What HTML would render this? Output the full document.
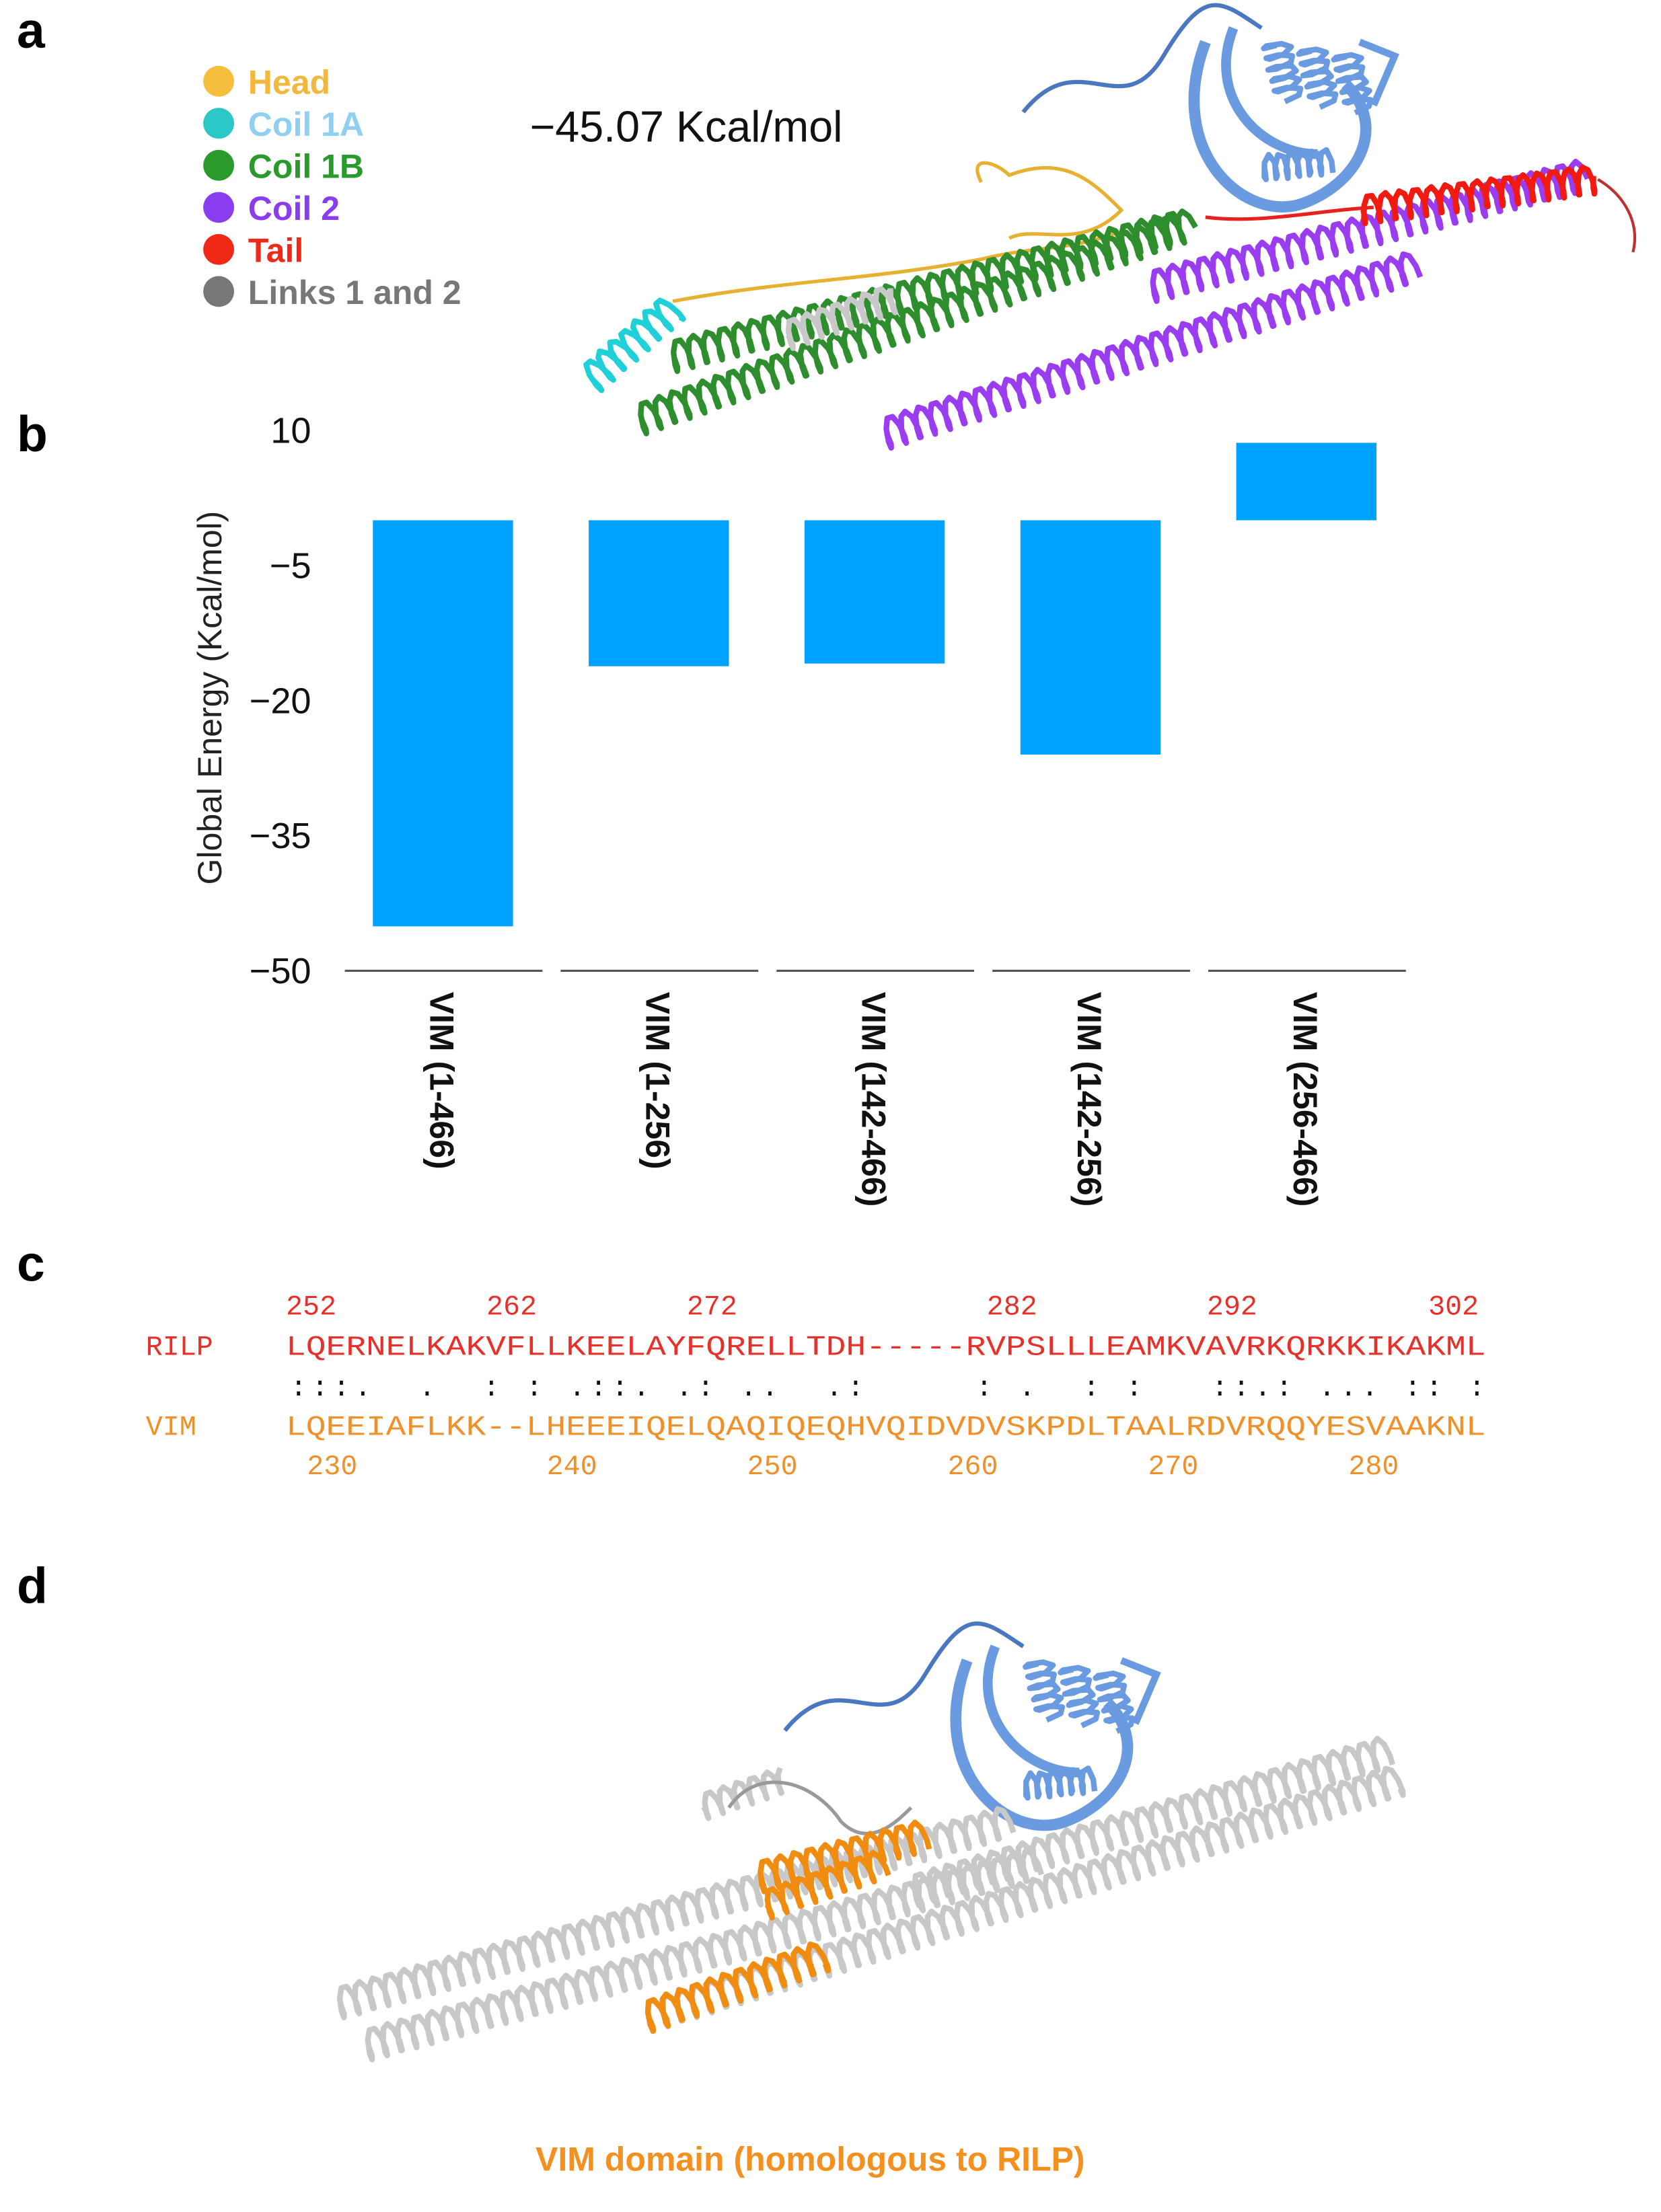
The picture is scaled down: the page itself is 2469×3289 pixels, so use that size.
<!DOCTYPE html>
<html><head><meta charset="utf-8"><style>
html,body{margin:0;padding:0;background:#fff}
svg{display:block}
text{font-family:"Liberation Sans",sans-serif}
.mono{font-family:"Liberation Mono",monospace}
</style></head><body>
<svg id="fig" width="2469" height="3289" viewBox="0 0 1185 1578.6" xmlns="http://www.w3.org/2000/svg">
<rect width="1185" height="1578.6" fill="#fff"/>
<text x="12" y="34" font-size="36" font-weight="bold">a</text>
<text x="12" y="322" font-size="36" font-weight="bold">b</text>
<text x="12" y="914" font-size="36" font-weight="bold">c</text>
<text x="12" y="1144" font-size="36" font-weight="bold">d</text>

<g font-size="24" font-weight="bold">
<g><circle cx="156" cy="58" r="11" fill="#f5be3c"/><text x="177" y="67" fill="#f2b83c">Head</text></g>
<g><circle cx="156" cy="88" r="11" fill="#2cc7c7"/><text x="177" y="97" fill="#8fd0f2">Coil 1A</text></g>
<g><circle cx="156" cy="118" r="11" fill="#2a9a2a"/><text x="177" y="127" fill="#2a9a2a">Coil 1B</text></g>
<g><circle cx="156" cy="148" r="11" fill="#8a3cf0"/><text x="177" y="157" fill="#8a3cf0">Coil 2</text></g>
<g><circle cx="156" cy="178" r="11" fill="#f02818"/><text x="177" y="187" fill="#f02818">Tail</text></g>
<g><circle cx="156" cy="208" r="11" fill="#777"/><text x="177" y="217" fill="#777">Links 1 and 2</text></g>
</g>
<text x="378" y="101" font-size="31" fill="#111">−45.07 Kcal/mol</text>

<g id="struct-a"></g>
<g id="chart"></g>

<g class="mono" font-size="20">
<g id="rilp-nums" fill="#e8302a"></g>
<text x="104" y="967" fill="#e8302a" font-size="20" class="mono">RILP</text>
<text x="204" y="967" fill="#e8302a" font-size="20" class="mono" textLength="856" lengthAdjust="spacingAndGlyphs">LQERNELKAKVFLLKEELAYFQRELLTDH-----RVPSLLLEAMKVAVRKQRKKIKAKML</text>
<text id="dots" x="204" y="996" fill="#111" font-size="20" class="mono" xml:space="preserve"></text>
<text x="104" y="1024" fill="#f0902a" font-size="20" class="mono">VIM</text>
<text x="204" y="1024" fill="#f0902a" font-size="20" class="mono" textLength="856" lengthAdjust="spacingAndGlyphs">LQEEIAFLKK--LHEEEIQELQAQIQEQHVQIDVDVSKPDLTAALRDVRQQYESVAAKNL</text>
<g id="vim-nums" fill="#f0902a"></g>
</g>

<g id="struct-d"></g>
<text x="578" y="1549" text-anchor="middle" font-size="24" font-weight="bold" fill="#f5901e">VIM domain (homologous to RILP)</text>
</svg>
<script>
const NS="http://www.w3.org/2000/svg";
const categories=["VIM (1-466)","VIM (1-256)","VIM (142-466)","VIM (142-256)","VIM (256-466)"];
const energies=[-45.07,-16.2,-15.9,-26.0,8.6];
const yTicks=[10,-5,-20,-35,-50];
const yTickLabels=["10","−5","−20","−35","−50"];

function mk(tag,attrs,parent){const e=document.createElementNS(NS,tag);for(const k in attrs)e.setAttribute(k,attrs[k]);parent.appendChild(e);return e;}
const chart=document.getElementById('chart');
const Y0=371.3, PX=6.43;
const yScale=v=>Y0-v*PX;
const bandW=154, barW=100;
const xCenter=i=>316+bandW*i;
yTicks.forEach((t,i)=>{
  const tx=mk('text',{x:222,y:yScale(t)+9,'text-anchor':'end','font-size':26,fill:'#111'},chart);
  
  
  tx.textContent=yTickLabels[i];
});
const yt=mk('text',{x:0,y:0,transform:'translate(158,498) rotate(-90)','text-anchor':'middle','font-size':24,fill:'#222'},chart);


yt.textContent='Global Energy (Kcal/mol)';
energies.forEach((v,i)=>{
  const cx=xCenter(i);
  const top=Math.min(yScale(v),Y0), h=Math.abs(yScale(v)-Y0);
  const r=mk('rect',{x:cx-barW/2,y:top,width:barW,height:h,fill:'#00a2ff'},chart);
  
  
  const ln=mk('line',{x1:cx-70,x2:cx+71,y1:yScale(-50),y2:yScale(-50),stroke:'#555','stroke-width':1.5},chart);
  
  
  const lb=mk('text',{x:0,y:0,transform:`translate(${cx-9},${yScale(-50)+15}) rotate(90)`,'font-size':24,'font-weight':'bold',fill:'#111'},chart);
  
  
  lb.textContent=categories[i];
});
const rilpNums=[[252,204],[262,347],[272,490],[282,704],[292,861],[302,1019]];
const vimNums=[[230,219],[240,390],[250,533],[260,676],[270,819],[280,962]];
rilpNums.forEach(([n,x])=>{const t=mk('text',{x:x,y:938,'font-size':20,class:'mono'},document.getElementById('rilp-nums'));t.textContent=n;});
vimNums.forEach(([n,x])=>{const t=mk('text',{x:x,y:1052,'font-size':20,class:'mono'},document.getElementById('vim-nums'));t.textContent=n;});
const dm={0:':',1:':',2:':',3:'.',6:'.',9:':',11:':',13:'.',14:':',15:':',16:'.',18:'.',19:':',21:'.',22:'.',25:'.',26:':',32:':',34:'.',37:':',39:':',43:':',44:':',45:'.',46:':',48:'.',49:'.',50:'.',52:':',53:':',55:':'};
const cw=856/56;const dg=document.getElementById('dots');dg.removeAttribute('x');
for(const k in dm){const ts=mk('tspan',{x:204+k*cw+3},dg);ts.textContent=dm[k];}
function helix(g,x1,y1,x2,y2,col,amp,per,w){
  const dx=x2-x1,dy=y2-y1,L=Math.hypot(dx,dy),ux=dx/L,uy=dy/L,nx=-uy,ny=ux;let d='';
  for(let t=0;t<=L;t+=1.5){const ph=t/per*2*Math.PI;const a=t+amp*0.25*Math.cos(ph),b=amp*Math.sin(ph);
    d+=(t?'L':'M')+(x1+ux*a+nx*b).toFixed(1)+' '+(y1+uy*a+ny*b).toFixed(1);}
  const p=mk('path',{d:d,fill:'none',stroke:col,'stroke-width':w||4,'stroke-linejoin':'round'},g);
  
  
}
function loop(g,d,col,w){const p=mk('path',{d:d,fill:'none',stroke:col,'stroke-width':w||3},g);
  
  }
function domain(g,cx,cy,s){
  const c='#6a9ae0';
  loop(g,`M${cx-160*s} ${cy-30*s} C${cx-120*s} ${cy-80*s} ${cx-90*s} ${cy-20*s} ${cx-60*s} ${cy-70*s} S${cx-20*s} ${cy-110*s} ${cx+10*s} ${cy-90*s}`,'#4a78c0',3);
  for(let i=0;i<3;i++)helix(g,cx+(20+i*25)*s,cy-(80-i*4)*s,cx+(30+i*25)*s,cy-(40-i*4)*s,c,10*s,8*s,4);
  loop(g,`M${cx-30*s} ${cy-80*s} C${cx-60*s} ${cy} ${cx} ${cy+50*s} ${cx+40*s} ${cy+35*s} C${cx+80*s} ${cy+20*s} ${cx+100*s} ${cy-20*s} ${cx+70*s} ${cy-50*s}`,c,8);
  loop(g,`M${cx-10*s} ${cy-90*s} C${cx-30*s} ${cy-40*s} ${cx+10*s} ${cy} ${cx+50*s} ${cy}`,c,7);
  helix(g,cx+10*s,cy+10*s,cx+60*s,cy+5*s,c,9*s,8*s,4);
  loop(g,`M${cx+80*s} ${cy-80*s} L${cx+105*s} ${cy-70*s} L${cx+90*s} ${cy-35*s}`,c,5);
}
const A=document.getElementById('struct-a');
domain(A,890,110,1);
loop(A,'M700 130 C690 110 710 115 720 125 C760 110 780 130 800 150 C770 180 740 160 720 170','#e8b030',2.5);
loop(A,'M480 215 C560 200 620 200 700 185 C740 175 760 180 800 165','#e8b030',2.5);
helix(A,420,272,482,218,'#1fd0d8',11,11,4);
helix(A,455,300,850,160,'#2e8e2e',11,11,4);
helix(A,478,255,840,162,'#2e8e2e',11,11,4);
helix(A,560,240,640,212,'#c8c8c8',10,11,4);
helix(A,630,310,1010,190,'#9a3cf0',11,11,4);
helix(A,820,205,1130,125,'#9a3cf0',11,11,4);
helix(A,970,150,1140,128,'#f01a10',10,11,4);
loop(A,'M1140 128 C1160 140 1170 160 1165 180','#c03030',2);
loop(A,'M860 155 C900 160 940 150 980 148','#e82020',2.5);
const D=document.getElementById('struct-d');
domain(D,720,1265,1);
helix(D,240,1430,720,1300,'#c8c8c8',11,11,4);
helix(D,260,1460,740,1330,'#c8c8c8',11,11,4);
helix(D,460,1440,1000,1270,'#c8c8c8',11,11,4);
helix(D,650,1350,990,1250,'#c8c8c8',11,11,4);
helix(D,500,1290,560,1270,'#c8c8c8',9,11,4);
loop(D,'M520 1290 C540 1260 580 1270 600 1300 C620 1320 640 1300 650 1290','#999',2.5);
helix(D,460,1440,590,1395,'#f08c10',11,11,4);
helix(D,540,1340,660,1310,'#f08c10',11,11,4);
helix(D,545,1360,630,1330,'#f08c10',10,11,4);
</script>
</body></html>
